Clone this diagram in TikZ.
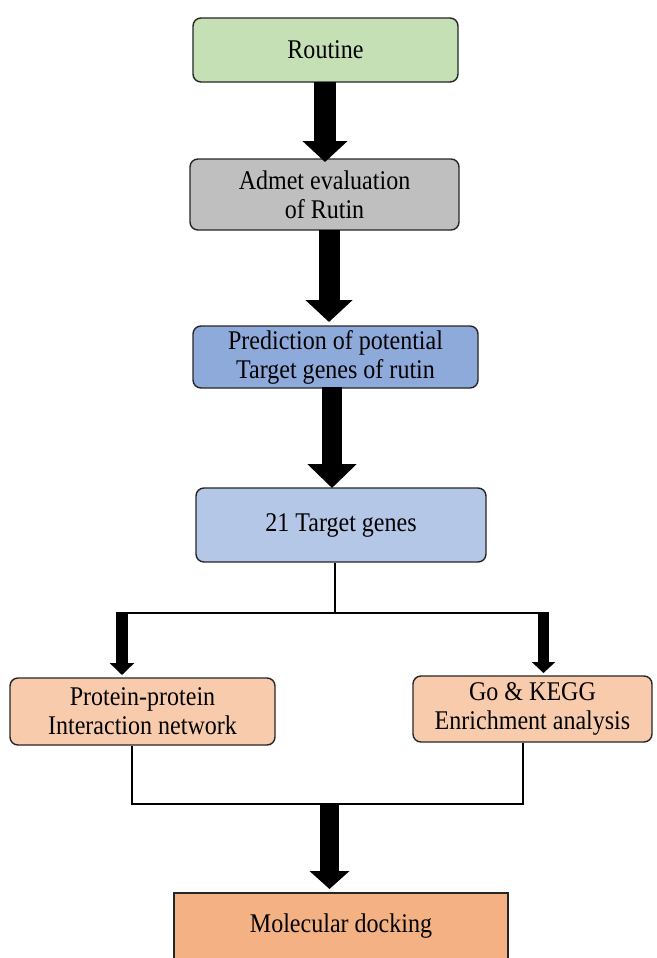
\documentclass[tikz,border=0pt]{standalone}
\usepackage{fontspec}
\setmainfont{Liberation Serif}[FakeStretch=0.89]
\usetikzlibrary{arrows.meta}
\definecolor{cgreen}{HTML}{C5E0B4}
\definecolor{cgray}{HTML}{BFBFBF}
\definecolor{cblue}{HTML}{8EAADB}
\definecolor{clblue}{HTML}{B4C7E7}
\definecolor{cpeach}{HTML}{F8CBAD}
\definecolor{corange}{HTML}{F4B183}
\begin{document}
\begin{tikzpicture}[x=1pt,y=-1pt,
  box/.style={draw=black!85, line width=1.4pt, rounded corners=8pt, align=center,
    inner sep=0pt, font=\fontsize{27}{29}\selectfont},
  sqbox/.style={box, rounded corners=0pt},
  link/.style={draw=black, line width=1.8pt},
  fat/.style n args={3}{draw=black, line width=#1pt, -{Triangle[width=#2pt,length=#3pt]}}
]
\useasboundingbox (0,0) rectangle (656,958);
\node[box, fill=cgreen, minimum width=265pt, minimum height=64pt] (routine) at (325.5,50) {Routine};
\node[box, fill=cgray, minimum width=269pt, minimum height=71pt] (admet) at (324.5,194.5) {Admet evaluation\\ of Rutin};
\node[box, fill=cblue, minimum width=285pt, minimum height=62pt] (pred) at (335.5,357) {Prediction of potential\\ Target genes of rutin};
\node[box, fill=clblue, minimum width=290pt, minimum height=74pt] (target) at (341,525) {21 Target genes};
\node[box, fill=cpeach, minimum width=265pt, minimum height=67pt] (ppi) at (142.5,711.5) {Protein-protein\\ Interaction network};
\node[box, fill=cpeach, minimum width=239pt, minimum height=66pt] (go) at (532.5,709) {Go \& KEGG\\ Enrichment analysis};
\node[sqbox, fill=corange, minimum width=334pt, minimum height=67pt] (dock) at (341,926.5) {Molecular docking};

% fat arrows between stacked boxes
\coordinate (a1s) at (325,82);  \coordinate (a1e) at (325,162);
\draw[fat={22}{44}{21}] (a1s) -- (a1e);
\coordinate (a2s) at (329,230); \coordinate (a2e) at (329,322);
\draw[fat={21}{46}{22}] (a2s) -- (a2e);
\coordinate (a3s) at (332,387); \coordinate (a3e) at (332,488);
\draw[fat={20}{48}{24}] (a3s) -- (a3e);

% split
\coordinate (tdown) at (335,613);
\coordinate (lsplit) at (116,613);
\coordinate (rsplit) at (543.5,613);
\draw[link] (target.south -| tdown) -- (tdown);
\draw[link] (lsplit) -- (rsplit);
\coordinate (l1) at (122,612); \coordinate (l2) at (122,675);
\draw[fat={12}{24}{12}] (l1) -- (l2);
\coordinate (r1) at (543.5,612); \coordinate (r2) at (543.5,673);
\draw[fat={11}{23}{11}] (r1) -- (r2);

% merge
\coordinate (ml) at (132,804);
\coordinate (mr) at (523,804);
\draw[link] (ppi.south -| ml) -- (ml) -- (mr) -- (go.south -| mr);
\coordinate (m1) at (329.5,803); \coordinate (m2) at (329.5,889);
\draw[fat={19}{39}{18}] (m1) -- (m2);
\end{tikzpicture}
\end{document}
